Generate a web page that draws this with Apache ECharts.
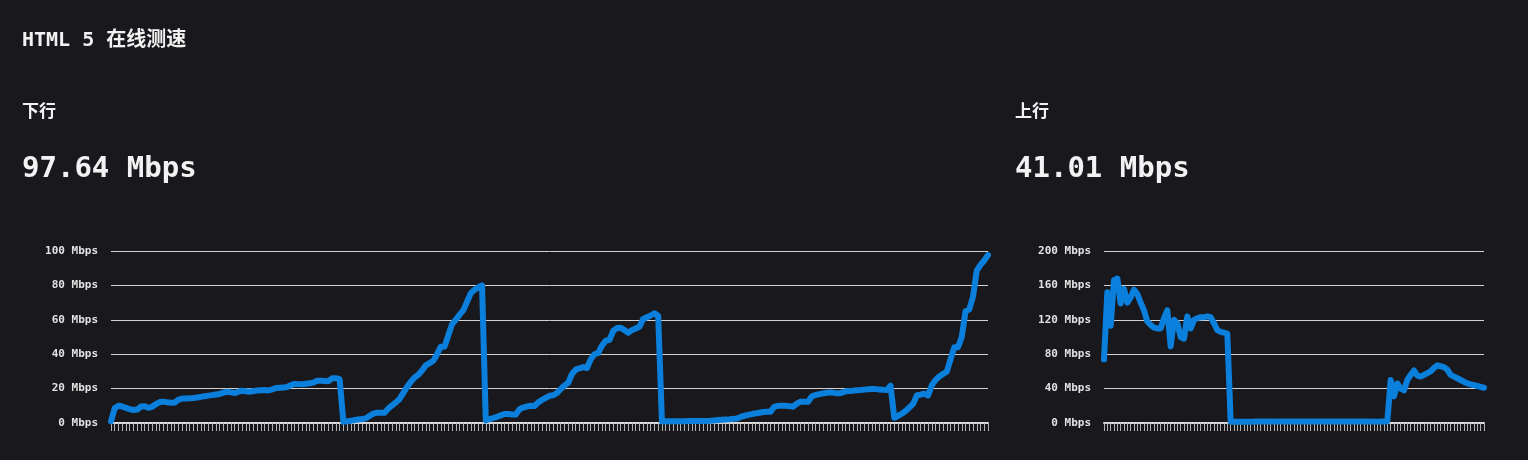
<!DOCTYPE html>
<html>
<head>
<meta charset="utf-8">
<title>HTML 5 在线测速</title>
<script src="https://cdn.jsdelivr.net/npm/echarts@6/dist/echarts.min.js"></script>
<style>
    html, body { margin: 0; padding: 0; background: #19181d; }
    #speed { width: 1528px; height: 460px; }
</style>
</head>
<body>
<div id="speed"></div>
<script>
// 测速结果 (Mbps)
var downResult = '97.64 Mbps';
var upResult = '41.01 Mbps';

// 下行 采样值
var downValues = [
    1.0, 8.7, 10.0, 9.6, 8.8, 8.0, 7.6, 7.8, 9.6, 9.8,
    8.8, 9.5, 11.0, 12.2, 12.4, 12.0, 11.8, 11.9, 13.6, 14.2,
    14.3, 14.4, 14.5, 14.8, 15.2, 15.6, 15.9, 16.2, 16.6, 16.9,
    17.6, 18.2, 17.8, 17.4, 18.2, 18.8, 18.5, 18.2, 18.6, 18.9,
    19.1, 19.2, 18.9, 19.6, 20.3, 20.5, 20.7, 20.9, 22.0, 22.7,
    22.6, 22.5, 22.8, 23.1, 23.5, 24.6, 24.5, 24.4, 24.3, 26.0,
    26.0, 25.5, 0.8, 1.0, 1.3, 1.7, 2.0, 2.3, 2.7, 4.2,
    5.4, 6.0, 6.0, 6.0, 8.5, 10.2, 12.0, 14.0, 17.5, 21.0,
    24.0, 26.5, 28.0, 30.5, 33.5, 34.8, 36.2, 40.0, 44.4, 44.4,
    51.0, 57.5, 60.0, 63.0, 65.5, 70.5, 75.5, 77.5, 79.0, 80.0,
    1.5, 2.2, 2.9, 3.6, 4.4, 5.2, 5.2, 5.0, 5.0, 8.0,
    9.0, 9.6, 10.0, 9.9, 12.0, 13.4, 14.6, 15.8, 16.1, 17.5,
    19.8, 21.8, 23.4, 28.5, 31.0, 31.8, 32.5, 32.0, 37.0, 40.0,
    40.8, 45.0, 47.8, 48.3, 53.5, 55.2, 55.4, 54.0, 52.5, 54.0,
    55.0, 56.0, 60.5, 61.5, 62.5, 63.8, 62.2, 1.0, 1.0, 1.0,
    1.0, 1.0, 1.0, 1.0, 1.1, 1.1, 1.1, 1.2, 1.2, 1.2,
    1.3, 1.5, 1.7, 1.9, 2.1, 2.2, 2.4, 2.6, 3.5, 4.2,
    4.7, 5.2, 5.6, 6.0, 6.4, 6.6, 6.6, 9.5, 10.0, 10.0,
    10.0, 9.8, 9.5, 11.2, 12.4, 12.4, 12.4, 15.5, 16.3, 16.8,
    17.2, 17.6, 17.8, 17.5, 17.2, 17.6, 18.4, 18.6, 18.8, 19.1,
    19.2, 19.4, 19.6, 19.8, 19.7, 19.5, 19.3, 19.2, 21.7, 3.0,
    4.2, 5.4, 7.0, 9.0, 11.0, 16.0, 16.5, 17.0, 16.0, 22.0,
    25.0, 27.0, 28.5, 29.8, 37.0, 44.0, 44.0, 50.0, 65.0, 66.1,
    73.4, 88.6, 91.9, 94.5, 97.64
];

// 上行 采样值
var upValues = [
    74, 152, 113, 166, 168, 139, 156, 140, 146, 155,
    150, 140, 131, 118, 114, 111, 110, 110, 122, 131,
    89, 120, 116, 100, 98, 124, 110, 120, 122, 123,
    123, 124, 123, 116, 108, 106, 105, 104, 1.5, 1.5,
    1.5, 1.5, 1.5, 1.5, 1.5, 1.6, 1.6, 1.6, 1.6, 1.6,
    1.6, 1.6, 1.6, 1.7, 1.7, 1.7, 1.7, 1.7, 1.7, 1.7,
    1.7, 1.7, 1.7, 1.7, 1.7, 1.7, 1.7, 1.7, 1.7, 1.7,
    1.7, 1.7, 1.7, 1.7, 1.7, 1.7, 1.7, 1.7, 1.7, 1.7,
    1.6, 1.7, 1.6, 1.7, 1.8, 2.0, 50, 31, 46, 40,
    38, 50, 56, 61, 55, 54, 56, 58, 60, 64,
    67, 66, 65, 62, 56, 54, 52, 50, 48, 46,
    45, 44, 43, 42, 41.01
];

// y 轴刻度
var downTicks = [0, 20, 40, 60, 80, 100];
var upTicks = [0, 40, 80, 120, 160, 200];

// 采样序号
var downIndex = downValues.map(function (v, i) { return i + 1; });
var upIndex = upValues.map(function (v, i) { return i + 1; });

var monoFont = "'DejaVu Sans Mono', 'Noto Sans CJK SC', monospace";
var lineColor = '#0b7fdc';

function xAxisOf(gridIndex, data) {
    return {
        type: 'category',
        gridIndex: gridIndex,
        boundaryGap: false,
        data: data,
        axisLine: { lineStyle: { color: '#dcdcdc', width: 2 } },
        axisTick: { interval: 0, length: 8, lineStyle: { color: '#b4b4b4', width: 1 } },
        axisLabel: { show: false },
        splitLine: { show: false }
    };
}

function yAxisOf(gridIndex, ticks) {
    return {
        type: 'value',
        gridIndex: gridIndex,
        min: ticks[0],
        max: ticks[ticks.length - 1],
        interval: ticks[1] - ticks[0],
        axisLine: { show: false },
        axisTick: { show: false },
        axisLabel: {
            color: '#e2e2e2',
            fontFamily: monoFont,
            fontSize: 11,
            fontWeight: 'bold',
            margin: 13,
            formatter: '{value} Mbps'
        },
        splitLine: { lineStyle: { color: '#d2d2d2', width: 1 } }
    };
}

function lineOf(index, data) {
    return {
        type: 'line',
        xAxisIndex: index,
        yAxisIndex: index,
        data: data,
        showSymbol: false,
        symbol: 'none',
        animation: false,
        lineStyle: { color: lineColor, width: 6, cap: 'round', join: 'round' }
    };
}

var myChart = echarts.init(document.getElementById('speed'));
myChart.setOption({
    backgroundColor: '#19181d',
    animation: false,
    title: [
        { text: 'HTML 5 在线测速', left: 17, top: 26,
          textStyle: { color: '#f2f2f2', fontFamily: monoFont, fontSize: 20, fontWeight: 'bold' } },
        { text: '下行', left: 17, top: 99,
          textStyle: { color: '#f2f2f2', fontFamily: monoFont, fontSize: 17, fontWeight: 'bold' } },
        { text: downResult, left: 17, top: 150,
          textStyle: { color: '#f2f2f2', fontFamily: monoFont, fontSize: 29, fontWeight: 'bold' } },
        { text: '上行', left: 1010, top: 99,
          textStyle: { color: '#f2f2f2', fontFamily: monoFont, fontSize: 17, fontWeight: 'bold' } },
        { text: upResult, left: 1010, top: 150,
          textStyle: { color: '#f2f2f2', fontFamily: monoFont, fontSize: 29, fontWeight: 'bold' } }
    ],
    grid: [
        { left: 111, width: 877, top: 251, height: 172 },
        { left: 1104, width: 380, top: 251, height: 172 }
    ],
    xAxis: [xAxisOf(0, downIndex), xAxisOf(1, upIndex)],
    yAxis: [yAxisOf(0, downTicks), yAxisOf(1, upTicks)],
    series: [lineOf(0, downValues), lineOf(1, upValues)]
});
</script>
</body>
</html>
